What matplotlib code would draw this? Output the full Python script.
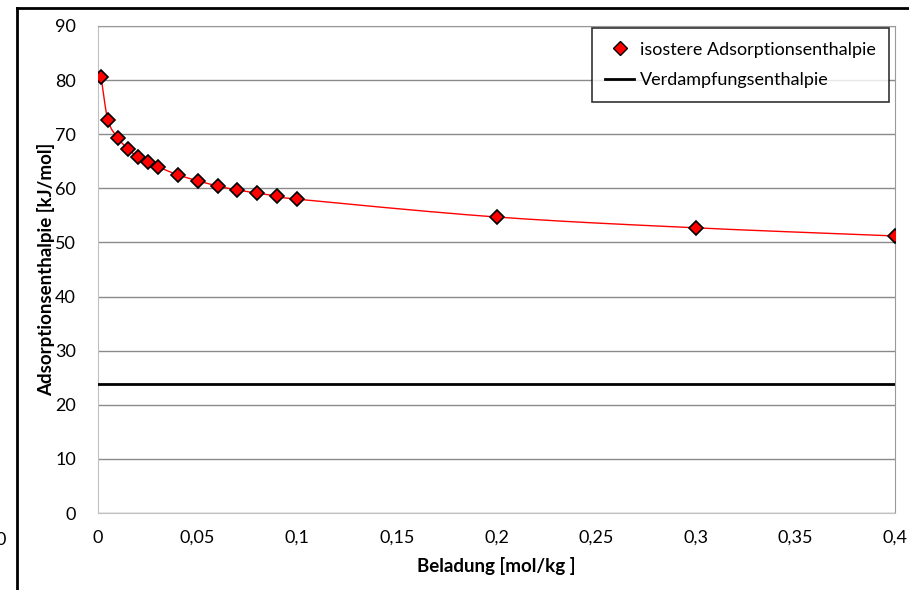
import numpy as np
import matplotlib
matplotlib.use("Agg")
import matplotlib.pyplot as plt
from matplotlib.lines import Line2D

# Data
beladung = [0.0015, 0.005, 0.01, 0.015, 0.02, 0.025, 0.03, 0.04, 0.05, 0.06,
            0.07, 0.08, 0.09, 0.1, 0.2, 0.3, 0.4]
adsorptionsenthalpie = [80.6, 72.6, 69.3, 67.3, 65.8, 64.9, 64.0, 62.5, 61.4,
                        60.4, 59.7, 59.1, 58.6, 58.0, 54.7, 52.7, 51.2]
verdampfungsenthalpie = 23.8
x_ticks = [0, 0.05, 0.1, 0.15, 0.2, 0.25, 0.3, 0.35, 0.4]
x_tick_labels = ["0", "0,05", "0,1", "0,15", "0,2", "0,25", "0,3", "0,35", "0,4"]
y_ticks = [0, 10, 20, 30, 40, 50, 60, 70, 80, 90]


def catmull_rom(xs, ys, n=30):
    xs = np.asarray(xs, float); ys = np.asarray(ys, float)
    px = np.concatenate([[2 * xs[0] - xs[1]], xs, [2 * xs[-1] - xs[-2]]])
    py = np.concatenate([[2 * ys[0] - ys[1]], ys, [2 * ys[-1] - ys[-2]]])
    ox, oy = [], []
    t = np.linspace(0, 1, n)
    for i in range(1, len(px) - 2):
        p0, p1, p2, p3 = (np.array([px[j], py[j]]) for j in (i - 1, i, i + 1, i + 2))
        b1 = p1 + (p2 - p0) / 6.0
        b2 = p2 - (p3 - p1) / 6.0
        for tt in t:
            pt = ((1 - tt) ** 3) * p1 + 3 * ((1 - tt) ** 2) * tt * b1 + 3 * (1 - tt) * tt ** 2 * b2 + tt ** 3 * p2
            ox.append(pt[0]); oy.append(pt[1])
    return ox, oy


plt.rcParams['font.family'] = ['Lato', 'DejaVu Sans']

fig = plt.figure(figsize=(9.09, 5.90), dpi=100)
W, H = 909, 590
ax = fig.add_axes([98 / W, 1 - 513 / H, (895 - 98) / W, (513 - 26) / H])

sx, sy = catmull_rom(beladung, adsorptionsenthalpie)
ax.plot(sx, sy, color="#ff0000", lw=1.0, zorder=3)
ax.plot(beladung, adsorptionsenthalpie, linestyle="none", marker="D", markersize=7.5,
        markerfacecolor="#ff0000", markeredgecolor="black", markeredgewidth=1.2, zorder=4)
ax.axhline(verdampfungsenthalpie, color="black", lw=2.0, zorder=3)

ax.set_xlim(0, 0.4)
ax.set_ylim(0, 90)
ax.set_xticks(x_ticks)
ax.set_xticklabels(x_tick_labels)
ax.set_yticks(y_ticks)
ax.tick_params(length=0, labelsize=13, pad=12)
ax.tick_params(axis="y", pad=16)
ax.grid(axis="y", color="#8a8a8a", lw=1.0)
ax.set_axisbelow(True)
for s in ["left", "bottom"]:
    ax.spines[s].set_color("#c0c0c0")
for s in ["right", "top"]:
    ax.spines[s].set_color("#9a9a9a")
ax.set_xlabel("Beladung [mol/kg ]", fontsize=13.5, fontweight="bold", labelpad=8)
ax.set_ylabel("Adsorptionsenthalpie [kJ/mol]", fontsize=13.5, fontweight="bold", labelpad=0)

handles = [
    Line2D([], [], linestyle="none", marker="D", markersize=7, markerfacecolor="#ff0000",
           markeredgecolor="black", markeredgewidth=1.0),
    Line2D([], [], color="black", lw=2.0),
]
leg = ax.legend(handles, ["isostere Adsorptionsenthalpie", "Verdampfungsenthalpie"],
                loc="upper right", bbox_to_anchor=((889 - 98) / (895 - 98), 1 - 2 / 487),
                fontsize=13, frameon=True, fancybox=False, edgecolor="black",
                handlelength=1.6, handletextpad=0.3, borderpad=0.75, borderaxespad=0,
                labelspacing=0.8)
leg.get_frame().set_linewidth(1.2)

# outer chart frame (clipped)
fig.add_artist(Line2D([17 / W, 17 / W], [0, 1 - 8 / H], color="black", lw=2.0, transform=fig.transFigure))
fig.add_artist(Line2D([17 / W, 1], [1 - 8 / H, 1 - 8 / H], color="black", lw=2.0, transform=fig.transFigure))
fig.text(-4 / W, 1 - 540 / H, "0", fontsize=13, va="center", ha="left")

fig.savefig("out.png", dpi=100)
